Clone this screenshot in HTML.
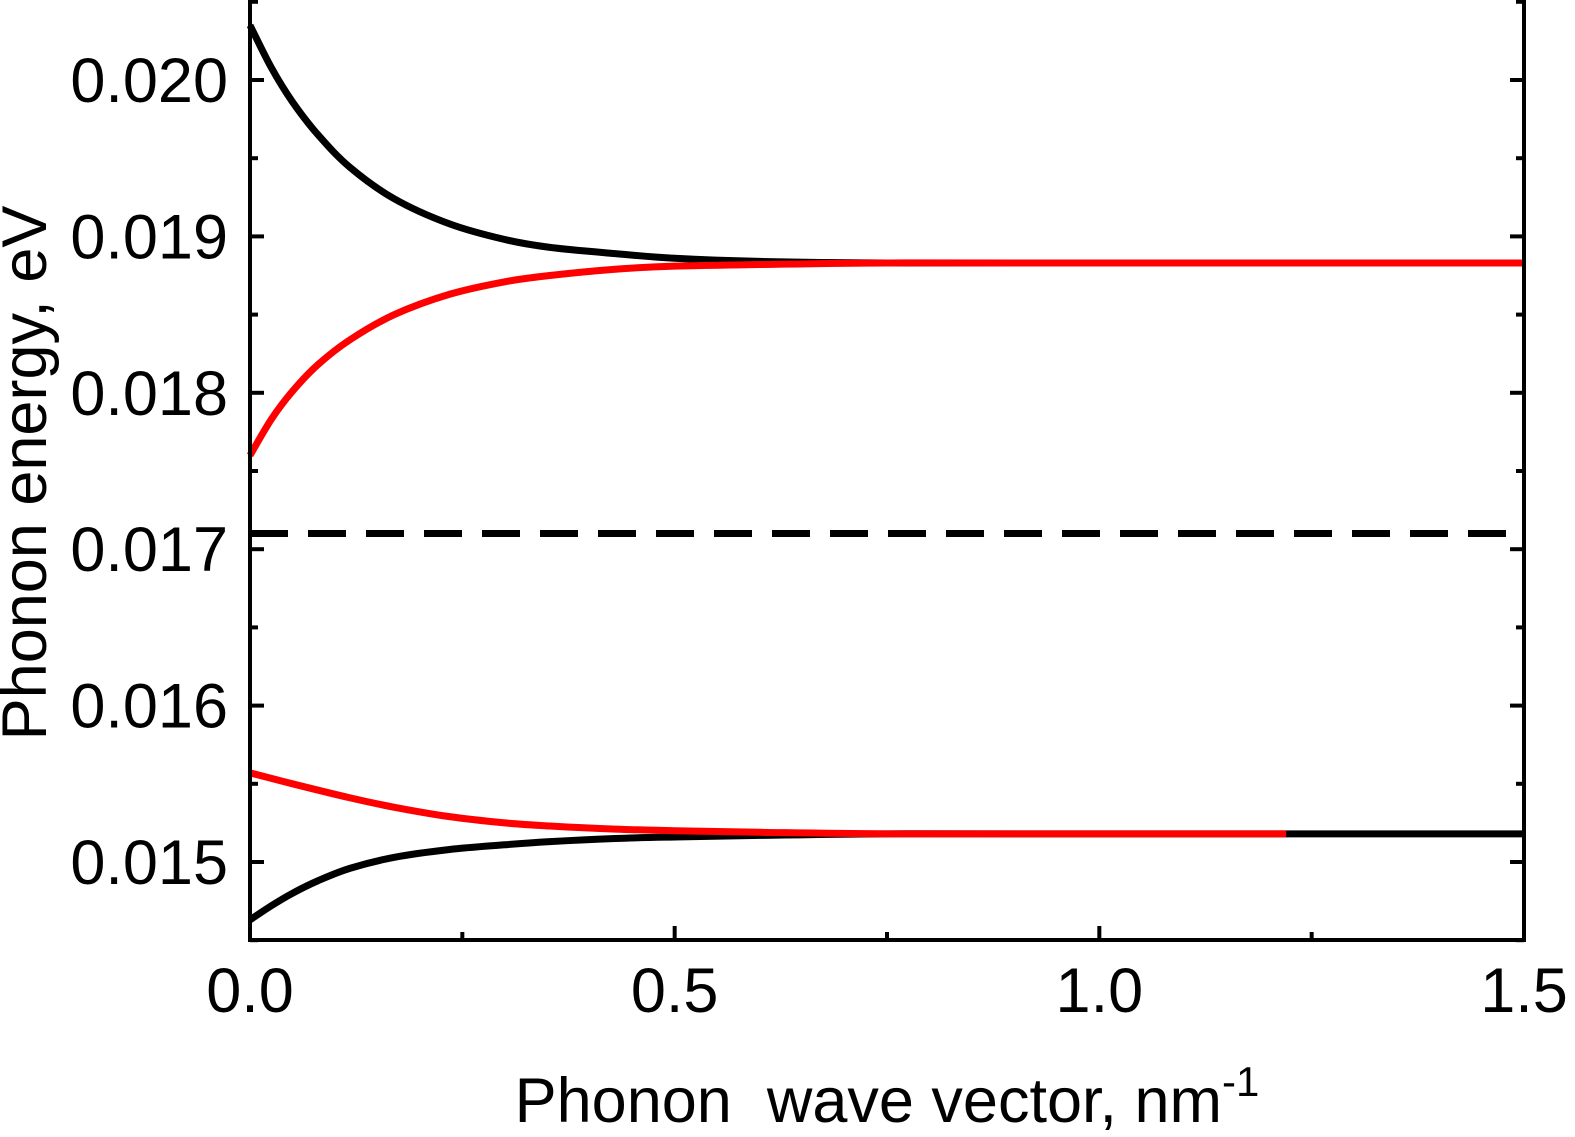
<!DOCTYPE html>
<html><head><meta charset="utf-8"><style>
html,body{margin:0;padding:0;background:#fff;}
svg{display:block;font-family:"Liberation Sans",Arial,sans-serif;}
</style></head><body>
<svg id="chart" width="1575" height="1137" viewBox="0 0 1575 1137">
<g id="marks"></g>
<g id="axes"></g>
</svg>
<script>
const qVals = [0, 0.025, 0.05, 0.08, 0.118, 0.17, 0.235, 0.3, 0.353, 0.43, 0.5, 0.6, 0.75, 1.0, 1.5];
const upperBlack = [0.02035, 0.02008, 0.01986, 0.01965, 0.01944, 0.01924, 0.01908, 0.01898, 0.01893, 0.01889, 0.01886, 0.01884, 0.01883, 0.01883, 0.01883];
const upperRed = [0.01760, 0.01783, 0.01801, 0.01818, 0.01834, 0.01850, 0.01863, 0.01871, 0.01875, 0.01879, 0.01881, 0.01882, 0.01883, 0.01883, 0.01883];
const qRedLow = [0, 0.05, 0.118, 0.17, 0.235, 0.3, 0.353, 0.43, 0.5, 0.6, 0.75, 1.0, 1.22];
const lowerRed = [0.01557, 0.01550, 0.01541, 0.01535, 0.01529, 0.01525, 0.01523, 0.01521, 0.01520, 0.01519, 0.01518, 0.01518, 0.01518];
const lowerBlack = [0.01463, 0.01472, 0.01480, 0.01488, 0.01496, 0.01503, 0.01508, 0.01511, 0.01513, 0.01515, 0.01516, 0.01517, 0.01518, 0.01518, 0.01518];
const dashedLevel = 0.01710;
const xTicks = [0, 0.5, 1.0, 1.5];
const xTickLabels = ["0.0", "0.5", "1.0", "1.5"];
const yTicks = [0.015, 0.016, 0.017, 0.018, 0.019, 0.020];
const yTickLabels = ["0.015", "0.016", "0.017", "0.018", "0.019", "0.020"];

const L=250,R=1524,T=0,B=940;
const X = q => L + q/1.5*(R-L);
const Y = e => 862 - (e-0.015)/0.001*156.4;
const NS="http://www.w3.org/2000/svg";
const marks=document.getElementById('marks'), axes=document.getElementById('axes');
function mk(tag,attrs,parent){const el=document.createElementNS(NS,tag);for(const k in attrs)el.setAttribute(k,attrs[k]);parent.appendChild(el);return el;}
function smooth(xs,ys){
  const p=xs.map((q,i)=>[X(q),Y(ys[i])]);
  let d=`M${p[0][0]},${p[0][1]}`;
  for(let i=0;i<p.length-1;i++){
    const p0=p[Math.max(0,i-1)],p1=p[i],p2=p[i+1],p3=p[Math.min(p.length-1,i+2)];
    const c1=[p1[0]+(p2[0]-p0[0])/6,p1[1]+(p2[1]-p0[1])/6];
    const c2=[p2[0]-(p3[0]-p1[0])/6,p2[1]-(p3[1]-p1[1])/6];
    d+=` C${c1[0]},${c1[1]} ${c2[0]},${c2[1]} ${p2[0]},${p2[1]}`;
  }
  return d;
}
let el;
el=mk('line',{x1:L,x2:R,y1:Y(dashedLevel),y2:Y(dashedLevel),stroke:'#000','stroke-width':7,'stroke-dasharray':'38,20'},marks);


el=mk('path',{d:smooth(qVals,upperBlack),fill:'none',stroke:'#000','stroke-width':7},marks);


el=mk('path',{d:smooth(qVals,lowerBlack),fill:'none',stroke:'#000','stroke-width':7},marks);


el=mk('path',{d:smooth(qVals,upperRed),fill:'none',stroke:'#f00','stroke-width':7},marks);


el=mk('path',{d:smooth(qRedLow,lowerRed),fill:'none',stroke:'#f00','stroke-width':7},marks);



el=mk('rect',{x:L,y:T-2,width:R-L,height:B-T+2,fill:'none',stroke:'#000','stroke-width':4},axes);


for(let i=0;i<xTicks.length;i++){
  const x=X(xTicks[i]);
  mk('line',{x1:x,x2:x,y1:B,y2:B-14,stroke:'#000','stroke-width':4},axes);
  el=mk('text',{x:x,y:1012,'text-anchor':'middle','font-size':63},axes);
  el.textContent=xTickLabels[i];
  
  
  if(i<xTicks.length-1){const xm=X(xTicks[i]+0.25);mk('line',{x1:xm,x2:xm,y1:B,y2:B-8,stroke:'#000','stroke-width':4},axes);}
}
for(let i=0;i<yTicks.length;i++){
  const y=Y(yTicks[i]);
  mk('line',{x1:L,x2:L+14,y1:y,y2:y,stroke:'#000','stroke-width':4},axes);
  mk('line',{x1:R,x2:R-14,y1:y,y2:y,stroke:'#000','stroke-width':4},axes);
  el=mk('text',{x:228,y:y+22,'text-anchor':'end','font-size':63},axes);
  el.textContent=yTickLabels[i];
  
  
  const ym=Y(yTicks[i]+0.0005);
  mk('line',{x1:L,x2:L+8,y1:ym,y2:ym,stroke:'#000','stroke-width':4},axes);
  mk('line',{x1:R,x2:R-8,y1:ym,y2:ym,stroke:'#000','stroke-width':4},axes);
}
const ym0=Y(0.0145);
mk('line',{x1:L,x2:L+8,y1:ym0,y2:ym0,stroke:'#000','stroke-width':4},axes);
mk('line',{x1:R,x2:R-8,y1:ym0,y2:ym0,stroke:'#000','stroke-width':4},axes);
el=mk('text',{x:887,y:1122,'text-anchor':'middle','font-size':63},axes);
el.innerHTML='Phonon&#160; wave vector, nm<tspan dy="-26" font-size="42">-1</tspan>';


el=mk('text',{x:0,y:0,'text-anchor':'middle','font-size':63,transform:'translate(46,473) rotate(-90)'},axes);
el.textContent='Phonon energy, eV';


</script>
</body></html>
